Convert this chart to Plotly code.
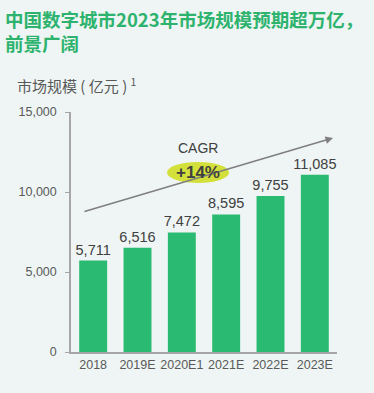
import plotly.graph_objects as go

categories = ["2018", "2019E", "2020E1", "2021E", "2022E", "2023E"]
values = [5711, 6516, 7472, 8595, 9755, 11085]
value_labels = ["5,711", "6,516", "7,472", "8,595", "9,755", "11,085"]
y_ticks = [0, 5000, 10000, 15000]
y_tick_labels = ["0", "5,000", "10,000", "15,000"]
cagr_label = "+14%"

BG = "#eef5f4"
GREEN = "#2aba72"
GRAY = "#595959"
AXIS = "#a6a6a6"
FONT = "Liberation Sans, Arial, Noto Sans CJK SC, sans-serif"
CJK = "Noto Sans CJK SC, sans-serif"

fig = go.Figure()
fig.add_trace(go.Bar(
    x=categories, y=values, marker_color=GREEN, marker_line_width=0,
    width=0.63, text=value_labels, textposition="outside", constraintext="none",
    textfont=dict(size=14.5, color="#404040", family=FONT),
    cliponaxis=False,
))

# arrow line
fig.add_annotation(x=5.41, y=13375, ax=-0.23, ay=8750, xref="x", yref="y",
                   axref="x", ayref="y", showarrow=True, arrowhead=2,
                   arrowsize=1, arrowwidth=1.5, arrowcolor="#7f7f7f", text="")
# ellipse
fig.add_shape(type="circle", xref="x", yref="y", x0=1.666, x1=3.064,
              y0=10562, y1=11875, fillcolor="#d4e03a", line_width=0, layer="above")
fig.add_annotation(x=2.365, y=11220, xref="x", yref="y", text="<b>" + cagr_label + "</b>",
                   showarrow=False, font=dict(size=17, color="#404040", family=FONT))
fig.add_annotation(x=2.365, y=12750, xref="x", yref="y", text="CAGR",
                   showarrow=False, font=dict(size=14, color="#404040", family=FONT))

# titles
fig.add_annotation(x=3, y=30.5, xref="paper", yref="paper",
                   text="<b>中国数字城市2023年市场规模预期超万亿，<br>前景广阔</b>",
                   showarrow=False, xanchor="left", yanchor="middle", align="left",
                   font=dict(size=18.5, color="#2db36e", family=CJK))
fig.add_annotation(x=15, y=85, xref="paper", yref="paper", text="市场规模 ( 亿元 ) <sup>1</sup>",
                   showarrow=False, xanchor="left", yanchor="middle",
                   font=dict(size=15, color=GRAY, family=CJK))

# convert pixel positions for paper annotations
W, H = 374, 393
L, R, T, B = 71, 37, 112, 41
pw, ph = W - L - R, H - T - B
for a in fig.layout.annotations:
    if a.xref == "paper":
        a.x = (a.x - L) / pw
        a.y = 1 - (a.y - T) / ph

fig.update_layout(
    width=W, height=H, margin=dict(l=L, r=R, t=T, b=B),
    paper_bgcolor=BG, plot_bgcolor=BG, showlegend=False, bargap=0.37,
    font=dict(family=FONT, color=GRAY),
    xaxis=dict(showline=True, linecolor=AXIS, linewidth=1.5, ticks="",
               tickfont=dict(size=12.5, color=GRAY), showgrid=False,
               range=[-0.5, 5.5], fixedrange=True),
    yaxis=dict(showline=True, linecolor=AXIS, linewidth=1.5, ticks="outside",
               ticklen=4, tickcolor=AXIS, tickvals=y_ticks, ticktext=y_tick_labels,
               tickfont=dict(size=12.5, color=GRAY), showgrid=False, zeroline=False,
               range=[0, 15000], ticklabelstandoff=6),
)
fig.write_html("out.html", config={"displayModeBar": False},
               post_script="document.body.style.margin='0';document.body.style.background='" + BG + "';")
